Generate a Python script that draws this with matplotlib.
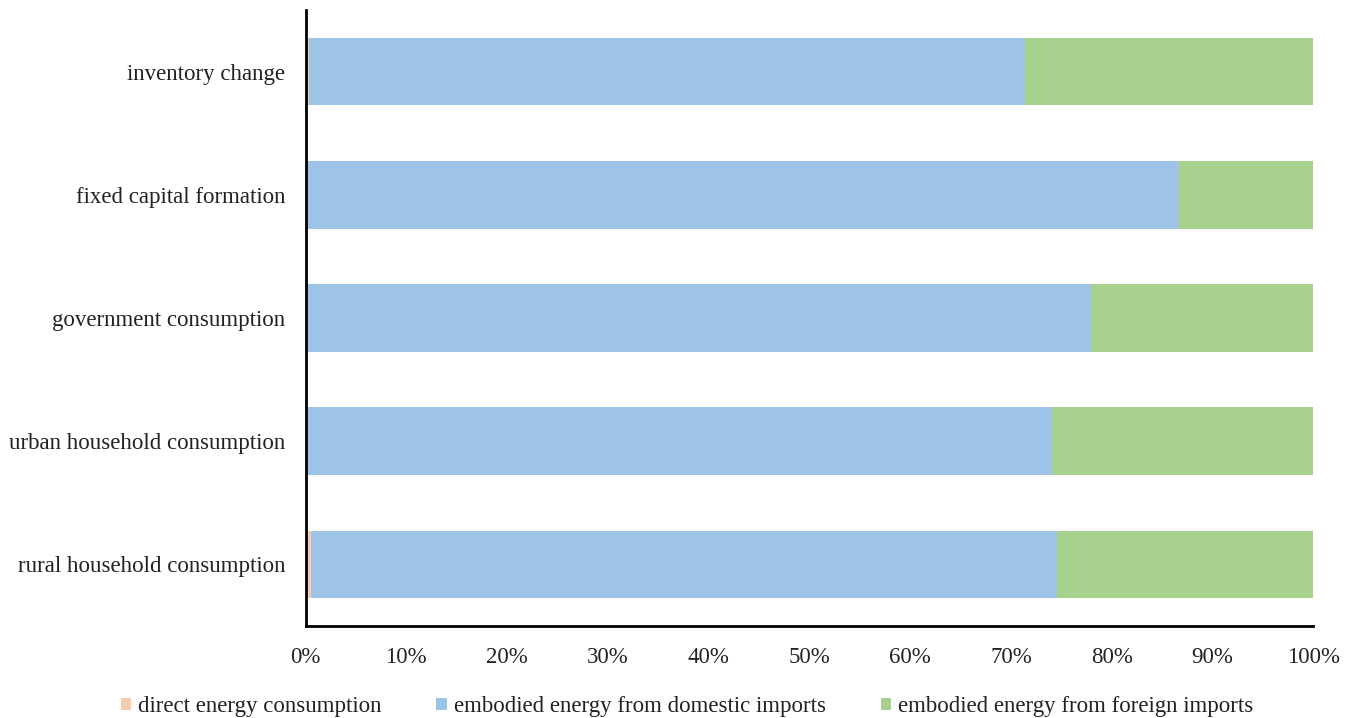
import numpy as np
import matplotlib.pyplot as plt
from matplotlib.ticker import PercentFormatter

categories = ['rural household consumption', 'urban household consumption',
              'government consumption', 'fixed capital formation', 'inventory change']
direct = [0.5, 0.0, 0.0, 0.0, 0.35]
domestic = [74.1, 74.1, 77.9, 86.7, 71.05]
foreign = [25.4, 25.9, 22.1, 13.3, 28.6]

series = ['direct energy consumption', 'embodied energy from domestic imports',
          'embodied energy from foreign imports']
colors = ['#F8CBAD', '#9DC3E6', '#A9D18E']

plt.rcParams['font.family'] = ['Liberation Serif', 'DejaVu Serif']
fs = 16.5

fig = plt.figure(figsize=(13.56, 7.18), dpi=100)
ax = fig.add_axes([0.2253, 0.1281, 0.7432, 0.8580])

y = np.arange(len(categories))
left = np.zeros(len(categories))
for vals, name, c in zip([direct, domestic, foreign], series, colors):
    ax.barh(y, vals, left=left, height=0.55, color=c, label=name, linewidth=0)
    left += np.array(vals)

ax.set_xlim(0, 100)
ax.set_ylim(-0.5, 4.5)
ax.set_yticks(y)
ax.set_yticklabels(categories, fontsize=fs, color='#222222')
ax.set_xticks(np.arange(0, 101, 10))
ax.xaxis.set_major_formatter(PercentFormatter(decimals=0))
ax.tick_params(axis='x', labelsize=fs, length=0, pad=15, colors='#222222')
ax.tick_params(axis='y', length=0, pad=14.5)
for s in ['top', 'right']:
    ax.spines[s].set_visible(False)
for s in ['left', 'bottom']:
    ax.spines[s].set_linewidth(2)
    ax.spines[s].set_color('black')

fig.legend(loc='center', bbox_to_anchor=(0.5066, 0.016), ncol=3, frameon=False,
           fontsize=fs, handlelength=0.45, handleheight=0.45, handletextpad=0.3,
           columnspacing=2.4, labelcolor='#222222', borderaxespad=0)

fig.savefig('out.png', dpi=100)
